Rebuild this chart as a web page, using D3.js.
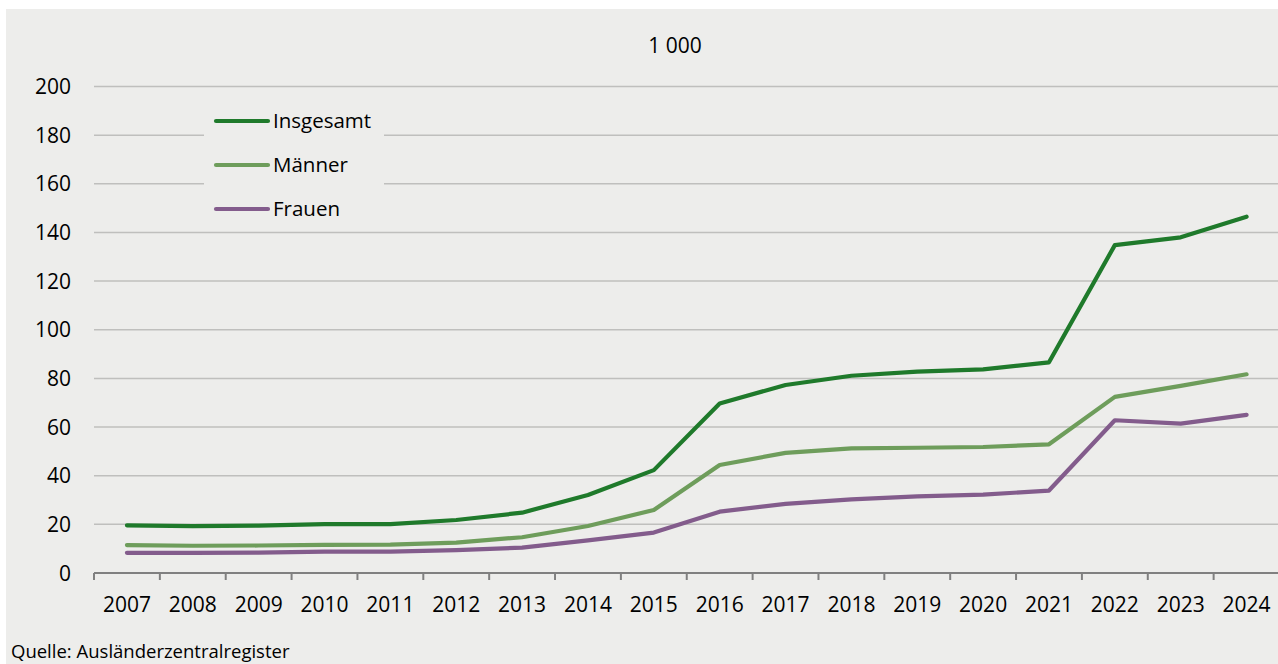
<!DOCTYPE html>
<html>
<head>
<meta charset="utf-8">
<script src="https://cdn.jsdelivr.net/npm/d3@7"></script>
<style>
  html, body { margin: 0; padding: 0; background: #ffffff; }
  svg { display: block; font-family: "Open Sans", "Noto Sans", sans-serif; }
</style>
</head>
<body>
<svg id="chart" width="1278" height="664"></svg>
<script>
const years = ["2007","2008","2009","2010","2011","2012","2013","2014","2015","2016","2017","2018","2019","2020","2021","2022","2023","2024"];
const insgesamt = [19.6, 19.3, 19.5, 20.1, 20.1, 21.8, 24.8, 32.1, 42.3, 69.7, 77.3, 81.1, 82.8, 83.7, 86.6, 134.8, 138.0, 146.5];
const maenner   = [11.5, 11.2, 11.3, 11.6, 11.7, 12.5, 14.7, 19.3, 25.9, 44.4, 49.4, 51.2, 51.5, 51.8, 52.9, 72.4, 76.9, 81.7];
const frauen    = [8.3, 8.3, 8.4, 8.8, 8.8, 9.4, 10.4, 13.4, 16.6, 25.2, 28.4, 30.3, 31.5, 32.2, 33.9, 62.8, 61.4, 65.0];
const yTicks = [0, 20, 40, 60, 80, 100, 120, 140, 160, 180, 200];
const seriesNames = ["Insgesamt", "Männer", "Frauen"];
const seriesColors = ["#1f7a2b", "#6e9d5b", "#835c8c"];
const unitLabel = "1 000";
const sourceLabel = "Quelle: Ausländerzentralregister";

const series = [insgesamt, maenner, frauen];
const svg = d3.select("#chart");

// panel background
svg.append("rect").attr("x", 6).attr("y", 9).attr("width", 1272).attr("height", 655).attr("fill", "#ededeb");

const x = d3.scaleBand().domain(years).range([94, 1279.5]).padding(0);
const y = d3.scaleLinear().domain([0, 200]).range([573, 86.5]);
const xc = d => x(d) + x.bandwidth() / 2;

// gridlines
svg.append("g").selectAll("line").data(yTicks.filter(t => t > 0)).join("line")
  .attr("x1", 94).attr("x2", 1278)
  .attr("y1", d => y(d)).attr("y2", d => y(d))
  .attr("stroke", "#bfbfbd").attr("stroke-width", 1.5);

// y labels
svg.append("g").selectAll("text").data(yTicks).join("text")
  .attr("x", 71).attr("y", d => y(d)).attr("dy", "0.36em")
  .attr("text-anchor", "end").attr("font-size", 21).attr("fill", "#000")
  .text(d => d);

// x axis line
svg.append("line").attr("x1", 94).attr("x2", 1278).attr("y1", y(0)).attr("y2", y(0))
  .attr("stroke", "#808080").attr("stroke-width", 2);
// boundary ticks
svg.append("g").selectAll("line").data(years).join("line")
  .attr("x1", d => x(d)).attr("x2", d => x(d))
  .attr("y1", y(0)).attr("y2", y(0) + 7)
  .attr("stroke", "#808080").attr("stroke-width", 2);
// x labels
svg.append("g").selectAll("text").data(years).join("text")
  .attr("x", d => xc(d)).attr("y", 612)
  .attr("text-anchor", "middle").attr("font-size", 21).attr("fill", "#000")
  .text(d => d);

// lines
const line = d3.line().x((d, i) => xc(years[i])).y(d => y(d));
series.forEach((s, k) => {
  svg.append("path").datum(s).attr("d", line)
    .attr("fill", "none").attr("stroke", seriesColors[k]).attr("stroke-width", 4.2)
    .attr("stroke-linejoin", "round").attr("stroke-linecap", "round");
});

// legend
svg.append("rect").attr("x", 204).attr("y", 100).attr("width", 180).attr("height", 125).attr("fill", "#ededeb");
const lg = svg.append("g");
seriesNames.forEach((n, k) => {
  const ly = 121 + k * 44;
  lg.append("line").attr("x1", 216).attr("x2", 268).attr("y1", ly).attr("y2", ly)
    .attr("stroke", seriesColors[k]).attr("stroke-width", 4.2).attr("stroke-linecap", "round");
  lg.append("text").attr("x", 273).attr("y", ly).attr("dy", "0.36em")
    .attr("font-size", 20.5).attr("fill", "#000").text(n);
});

// unit label
svg.append("text").attr("x", 675).attr("y", 53).attr("text-anchor", "middle")
  .attr("font-size", 21).attr("fill", "#000").text(unitLabel);

// source
svg.append("text").attr("x", 11).attr("y", 658)
  .attr("font-size", 18.5).attr("fill", "#000").text(sourceLabel);
</script>
</body>
</html>
